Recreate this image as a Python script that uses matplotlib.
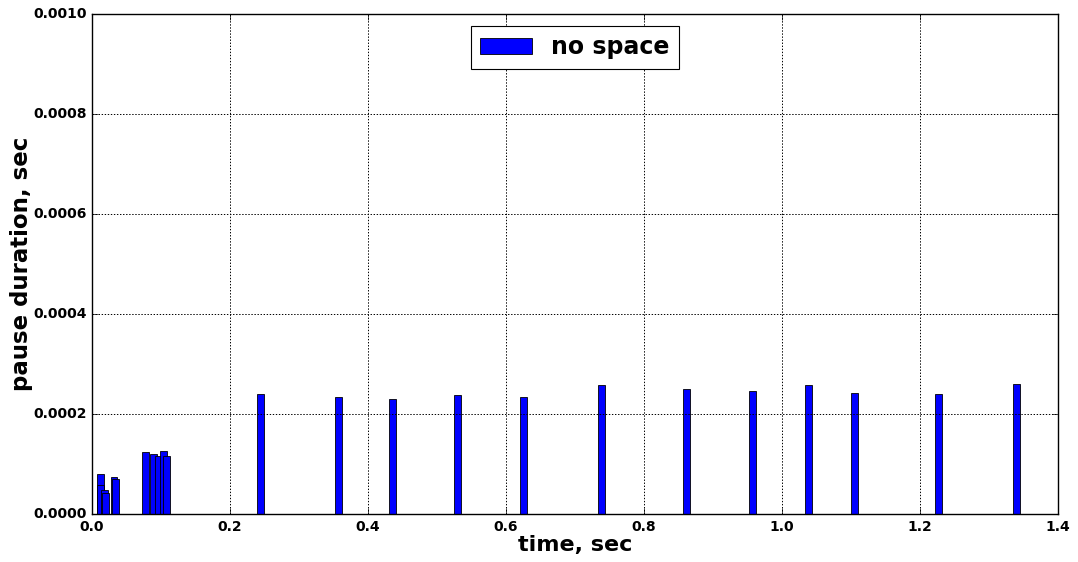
import numpy as np
import matplotlib
matplotlib.use("Agg")
import matplotlib.pyplot as plt

# pause start times (left edge of bar), seconds
tiempos = [0.0068, 0.0068, 0.0130, 0.0145, 0.0270, 0.0294,
           0.0729, 0.0836, 0.0913, 0.0990, 0.1033,
           0.2391, 0.3522, 0.4304, 0.5246, 0.6203, 0.7333,
           0.8572, 0.9522, 1.0340, 1.1000, 1.2217, 1.3348]
# pause durations, seconds
pausas = [0.000081, 0.000058, 0.000048, 0.000043, 0.000075, 0.000070,
          0.000125, 0.000121, 0.000117, 0.000126, 0.000117,
          0.000240, 0.000234, 0.000231, 0.000238, 0.000235, 0.000258,
          0.000250, 0.000246, 0.000259, 0.000242, 0.000240, 0.000261]
ancho = 0.01

plt.style.use("classic")
plt.rcParams["font.weight"] = "bold"
plt.rcParams["axes.labelweight"] = "bold"

fig = plt.figure(figsize=(10.78, 5.62), dpi=100)
ax = fig.add_axes([0.0853, 0.0854, 0.8961, 0.8897])
ax.bar(tiempos, pausas, width=ancho, align="edge", color="#0000ff",
       edgecolor="#000000", linewidth=0.6, label="no space")

ax.set_xlim(0, 1.4)
ax.set_ylim(0, 0.001)
ax.set_xticks(np.arange(0, 1.41, 0.2))
ax.set_yticks(np.arange(0, 0.00101, 0.0002))
ax.set_xticklabels(["%.1f" % v for v in np.arange(0, 1.41, 0.2)], fontsize=10, fontweight="bold")
ax.set_yticklabels(["%.4f" % v for v in np.arange(0, 0.00101, 0.0002)], fontsize=10, fontweight="bold")
ax.grid(True, linestyle=(0, (1, 1.2)), color="black", linewidth=0.7)
ax.set_xlabel("time, sec", fontsize=16, fontweight="bold", labelpad=1)
ax.set_ylabel("pause duration, sec", fontsize=16.5, fontweight="bold", labelpad=0)
leg = ax.legend(loc="upper center", prop={"size": 17, "weight": "bold"},
                handlelength=2.2, handleheight=0.7, borderpad=0.4)
leg.get_frame().set_linewidth(0.8)

fig.savefig("out.png", dpi=100)
